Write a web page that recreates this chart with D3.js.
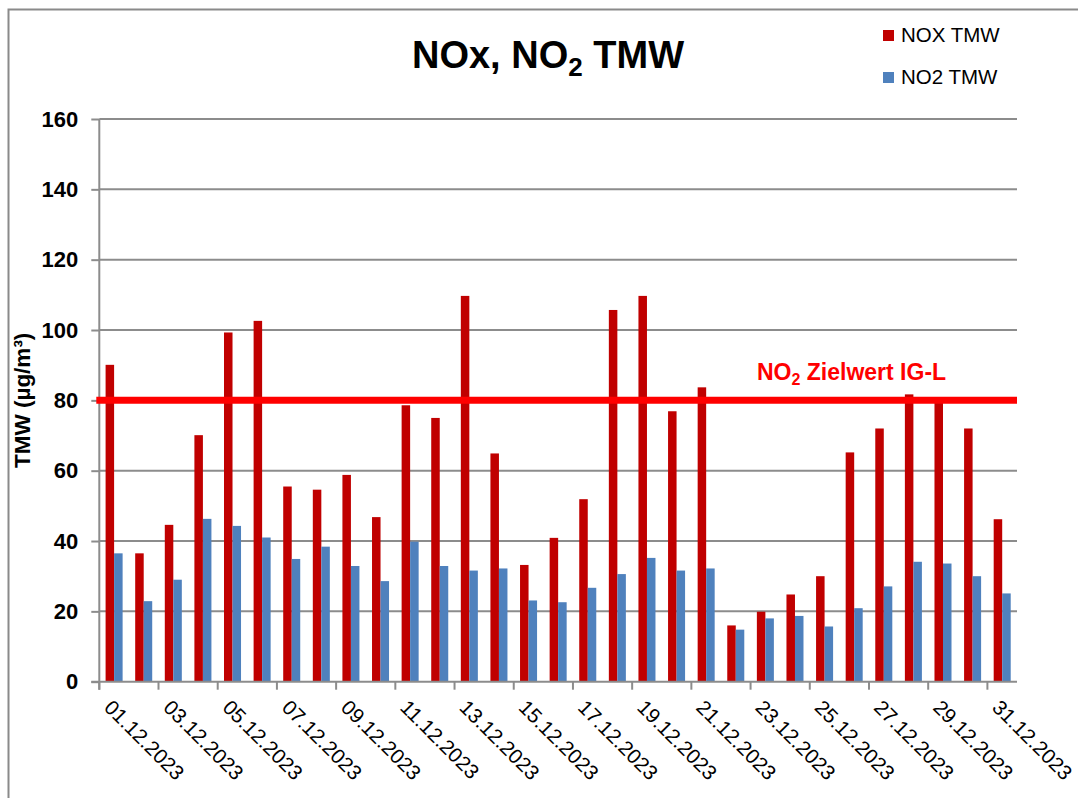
<!DOCTYPE html>
<html>
<head>
<meta charset="utf-8">
<script src="https://cdn.jsdelivr.net/npm/d3@7"></script>
<style>
  body { margin: 0; background: #fff; }
  text { font-family: "Liberation Sans", Arial, sans-serif; }
</style>
</head>
<body>
<div id="chart"></div>
<script>
// categories (x axis)
let days = ["01.12.2023", "02.12.2023", "03.12.2023", "04.12.2023", "05.12.2023", "06.12.2023",
            "07.12.2023", "08.12.2023", "09.12.2023", "10.12.2023", "11.12.2023", "12.12.2023",
            "13.12.2023", "14.12.2023", "15.12.2023", "16.12.2023", "17.12.2023", "18.12.2023",
            "19.12.2023", "20.12.2023", "21.12.2023", "22.12.2023", "23.12.2023", "24.12.2023",
            "25.12.2023", "26.12.2023", "27.12.2023", "28.12.2023", "29.12.2023", "30.12.2023",
            "31.12.2023"];

// series values (µg/m³)
let noxTMW = [90.1, 36.5, 44.6, 70.1, 99.3, 102.6, 55.5, 54.6, 58.8, 46.8, 78.6, 75.0,
              109.7, 64.9, 33.2, 40.9, 51.9, 105.7, 109.7, 76.9, 83.7, 16.0, 19.9, 24.8,
              30.0, 65.2, 72.0, 81.7, 80.3, 72.0, 46.2];
let no2TMW = [36.5, 22.9, 29.0, 46.3, 44.3, 41.0, 34.9, 38.4, 32.9, 28.6, 39.8, 32.9,
              31.6, 32.2, 23.1, 22.6, 26.7, 30.6, 35.2, 31.6, 32.2, 14.8, 18.0, 18.7,
              15.7, 20.9, 27.1, 34.1, 33.6, 30.0, 25.1];

let seriesNames = ["NOX TMW", "NO2 TMW"];
let yTicks = [0, 20, 40, 60, 80, 100, 120, 140, 160];
let limitValue = 80; // NO2 Zielwert IG-L

// aes
let width = 1078,
    height = 798,
    margin = {left: 99.3, right: 61, top: 119, bottom: 116.3};

let colors = d3.scaleOrdinal().domain(seriesNames).range(["#c00000", "#4f81bd"]);

let svg = d3.select("#chart").append("svg")
  .attr("width", width)
  .attr("height", height);

// outer chart frame (cut at right / bottom like the source)
svg.append("rect")
  .attr("x", 8.5).attr("y", 9.5)
  .attr("width", 2000).attr("height", 2000)
  .attr("fill", "none")
  .attr("stroke", "#8a8a8a")
  .attr("stroke-width", 2);

let x = d3.scaleBand()
  .domain(days)
  .range([margin.left, width - margin.right])
  .paddingInner(0.425)
  .paddingOuter(0.2125);

let xSub = d3.scaleBand()
  .domain(seriesNames)
  .range([0, x.bandwidth()]);

let y = d3.scaleLinear()
  .domain([0, 160])
  .range([height - margin.bottom, margin.top]);

let rows = days.map((d, i) => ({day: d, values: [noxTMW[i], no2TMW[i]]}));

// gridlines
svg.append("g")
  .selectAll("line")
  .data(yTicks.filter(t => t > 0))
  .enter().append("line")
  .attr("x1", margin.left).attr("x2", width - margin.right)
  .attr("y1", d => y(d)).attr("y2", d => y(d))
  .attr("stroke", "#8c8c8c")
  .attr("stroke-width", 2);

// y axis
let yAxis = svg.append("g")
  .attr("transform", `translate(${margin.left},0)`)
  .call(d3.axisLeft(y).tickValues(yTicks).tickSize(8).tickPadding(13));
yAxis.select(".domain").attr("stroke", "#8c8c8c").attr("stroke-width", 2)
  .attr("d", `M0,${y(160)}V${y(0) + 8}`);
yAxis.selectAll(".tick line").attr("stroke", "#8c8c8c").attr("stroke-width", 2);
yAxis.selectAll(".tick text")
  .attr("fill", "#000")
  .style("font-size", "22px")
  .style("font-weight", "bold")
  .style("font-family", "'Liberation Sans', Arial, sans-serif");

// bars
let group = svg.append("g")
  .selectAll("g")
  .data(rows)
  .enter().append("g")
  .attr("transform", d => `translate(${x(d.day)},0)`);

group.selectAll("rect")
  .data(d => d.values.map((v, j) => ({key: seriesNames[j], value: v})))
  .enter().append("rect")
  .attr("x", d => xSub(d.key))
  .attr("width", xSub.bandwidth())
  .attr("y", d => y(d.value))
  .attr("height", d => y(0) - y(d.value))
  .attr("fill", d => colors(d.key));

// x axis: ticks every second category boundary
let step = x.step();
let boundaries = d3.range(0, days.length, 2).map(i => margin.left + i * step);
let xAxis = svg.append("g");
xAxis.append("line")
  .attr("x1", margin.left - 8).attr("x2", width - margin.right)
  .attr("y1", y(0)).attr("y2", y(0))
  .attr("stroke", "#8c8c8c").attr("stroke-width", 2);
xAxis.selectAll("line.tick")
  .data(boundaries)
  .enter().append("line")
  .attr("class", "tick")
  .attr("x1", d => d).attr("x2", d => d)
  .attr("y1", y(0)).attr("y2", y(0) + 8)
  .attr("stroke", "#8c8c8c").attr("stroke-width", 2);

xAxis.selectAll("text")
  .data(days.filter((d, i) => i % 2 == 0))
  .enter().append("text")
  .attr("transform", d => `translate(${x(d) + x.bandwidth() / 2 - 6},${y(0) + 22}) rotate(45)`)
  .attr("dy", "0.35em")
  .style("font-size", "20.5px")
  .attr("fill", "#000")
  .text(d => d);

// limit line
svg.append("line")
  .attr("x1", margin.left - 3).attr("x2", width - margin.right)
  .attr("y1", y(limitValue)).attr("y2", y(limitValue))
  .attr("stroke", "#ff0000")
  .attr("stroke-width", 7);

let limitLabel = svg.append("text")
  .attr("x", 757).attr("y", 380)
  .attr("fill", "#ff0000")
  .style("font-size", "23px")
  .style("font-weight", "bold");
limitLabel.append("tspan").text("NO");
limitLabel.append("tspan").attr("dy", 5).style("font-size", "16px").text("2");
limitLabel.append("tspan").attr("dy", -5).text(" Zielwert IG-L");

// title
let title = svg.append("text")
  .attr("x", 548).attr("y", 68)
  .attr("text-anchor", "middle")
  .style("font-size", "38px")
  .style("font-weight", "bold")
  .attr("fill", "#000");
title.append("tspan").text("NOx, NO");
title.append("tspan").attr("dy", 8).style("font-size", "26px").text("2");
title.append("tspan").attr("dy", -8).text(" TMW");

// y axis title
svg.append("text")
  .attr("transform", `translate(30,${(y(0) + y(160)) / 2}) rotate(-90)`)
  .attr("text-anchor", "middle")
  .style("font-size", "22.5px")
  .style("font-weight", "bold")
  .attr("fill", "#000")
  .text("TMW (µg/m³)");

// legend
let legend = svg.append("g")
  .selectAll("g")
  .data(seriesNames)
  .enter().append("g")
  .attr("transform", (d, i) => `translate(883,${30 + i * 42})`);
legend.append("rect")
  .attr("width", 11).attr("height", 11)
  .attr("fill", d => colors(d));
legend.append("text")
  .attr("x", 18).attr("y", 12)
  .style("font-size", "20.5px")
  .attr("fill", "#000")
  .text(d => d);
</script>
</body>
</html>
